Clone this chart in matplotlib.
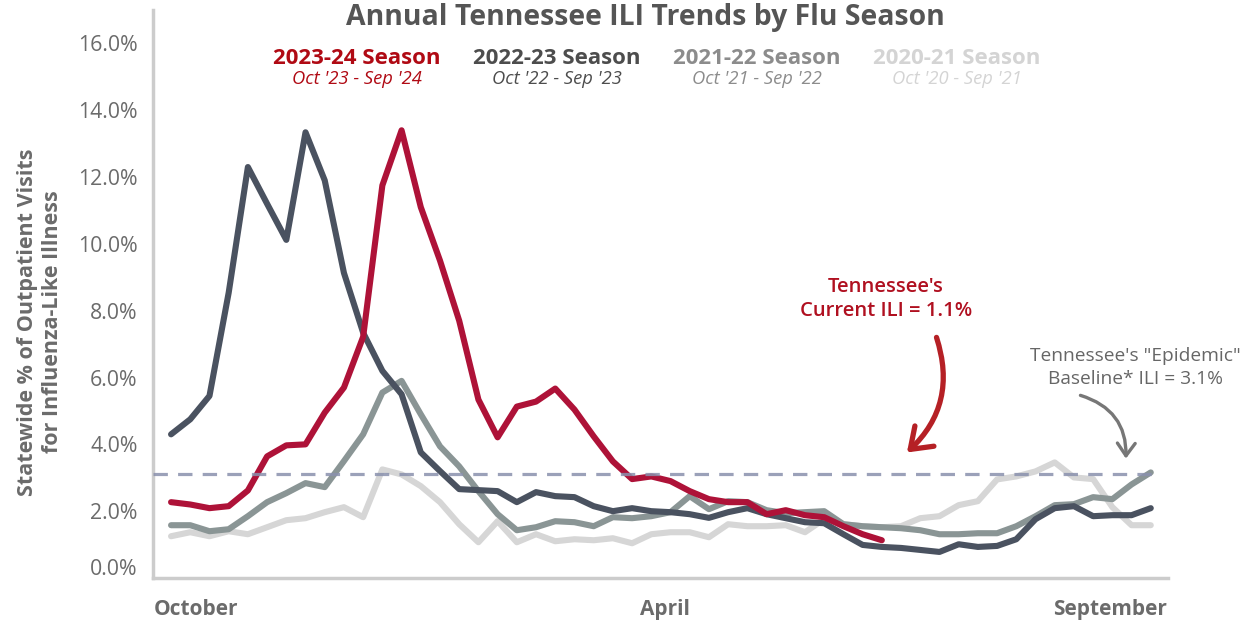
import matplotlib
matplotlib.use('Agg')
import matplotlib.pyplot as plt
import matplotlib.transforms as mtransforms
from matplotlib.patches import FancyArrowPatch

plt.rcParams['font.family'] = ['Open Sans', 'DejaVu Sans']

# weekly ILI % (week 0 = start of October)
season_2023_24 = [2.27, 2.2, 2.09, 2.15, 2.62, 3.64, 3.97, 4.0, 4.95, 5.7,
                  7.22, 11.75, 13.4, 11.1, 9.5, 7.7, 5.34, 4.21, 5.13, 5.28,
                  5.67, 5.04, 4.24, 3.49, 2.96, 3.04, 2.9, 2.6, 2.36, 2.27,
                  2.27, 1.91, 2.03, 1.88, 1.82, 1.55, 1.31, 1.13]
season_2022_23 = [4.3, 4.75, 5.45, 8.54, 12.3, 11.2, 10.12, 13.34, 11.9, 9.13,
                  7.34, 6.2, 5.5, 3.76, 3.2, 2.66, 2.63, 2.6, 2.27, 2.57,
                  2.45, 2.42, 2.15, 2.0, 2.09, 2.0, 1.97, 1.91, 1.8, 1.97,
                  2.09, 1.91, 1.79, 1.67, 1.64, 1.31, 0.99, 0.93, 0.9, 0.84,
                  0.78, 1.01, 0.93, 0.96, 1.16, 1.76, 2.09, 2.15, 1.85, 1.88,
                  1.88, 2.09]
season_2021_22 = [1.58, 1.58, 1.4, 1.46, 1.85, 2.27, 2.54, 2.84, 2.72, 3.5,
                  4.3, 5.55, 5.9, 4.9, 3.94, 3.34, 2.6, 1.91, 1.43, 1.52,
                  1.7, 1.67, 1.55, 1.82, 1.79, 1.85, 1.97, 2.45, 2.06, 2.3,
                  2.27, 2.03, 1.94, 1.97, 2.0, 1.61, 1.55, 1.52, 1.49, 1.43,
                  1.31, 1.31, 1.34, 1.34, 1.55, 1.85, 2.18, 2.21, 2.42, 2.36,
                  2.8, 3.16]
season_2020_21 = [1.25, 1.37, 1.25, 1.4, 1.31, 1.52, 1.73, 1.79, 1.97, 2.12,
                  1.82, 3.25, 3.1, 2.75, 2.27, 1.61, 1.07, 1.7, 1.07, 1.31,
                  1.1, 1.16, 1.13, 1.19, 1.04, 1.31, 1.37, 1.37, 1.22, 1.61,
                  1.55, 1.55, 1.58, 1.37, 1.76, 1.61, 1.55, 1.52, 1.55, 1.79,
                  1.85, 2.18, 2.3, 2.95, 3.04, 3.19, 3.46, 3.01, 2.96, 2.12,
                  1.58, 1.58]
baseline = 3.1

season_names = ['2023-24 Season', '2022-23 Season', '2021-22 Season', '2020-21 Season']
season_ranges = ["Oct '23 - Sep '24", "Oct '22 - Sep '23", "Oct '21 - Sep '22", "Oct '20 - Sep '21"]
month_labels = ['October', 'April', 'September']
month_pos = [1.3, 25.7, 48.9]
y_ticks = [0, 2, 4, 6, 8, 10, 12, 14, 16]

fig = plt.figure(figsize=(12.51, 6.25), dpi=100)
ax = fig.add_axes([0.1223, 0.0752, 0.8114, 0.9088])

line_kw = dict(lw=4.4, solid_capstyle='round', solid_joinstyle='round')
ax.plot(range(len(season_2020_21)), season_2020_21, color='#D6D6D6', **line_kw)
ax.plot(range(len(season_2021_22)), season_2021_22, color='#8A9595', **line_kw)
ax.plot(range(len(season_2022_23)), season_2022_23, color='#4A5260', **line_kw)
ax.plot(range(len(season_2023_24)), season_2023_24, color='#AE1238', **line_kw)

ax.hlines(baseline, -0.94, 51.5, colors='#8A91AD', linestyles=(0, (4.5, 3.2)),
          lw=2.3, alpha=0.85, zorder=5)

ax.set_xlim(-0.94, 51.9)
ax.set_ylim(0, 17)

for s in ['top', 'right']:
    ax.spines[s].set_visible(False)
for s in ['left', 'bottom']:
    ax.spines[s].set_color('#CCCCCC')
    ax.spines[s].set_linewidth(2.5)

ax.set_yticks(y_ticks)
ax.set_yticklabels(['{:.1f}%'.format(v) for v in y_ticks])
ax.tick_params(axis='y', length=0, pad=11, labelsize=15.3, labelcolor='#6B6B6B')
ax.set_xticks(month_pos)
ax.set_xticklabels(month_labels, fontweight='bold')
ax.tick_params(axis='x', length=0, pad=15, labelsize=15, labelcolor='#6B6B6B')

# 0.0% label sits a bit above the axis line
lbl = ax.get_yticklabels()[0]
lbl.set_transform(lbl.get_transform() +
                  mtransforms.ScaledTranslation(0, 0.11, fig.dpi_scale_trans))

fig.text(40 / 1251, 1 - 322 / 625,
         'Statewide % of Outpatient Visits\nfor Influenza-Like Illness',
         rotation=90, ha='center', va='center', fontsize=15.5,
         fontweight='bold', color='#6B6B6B', linespacing=1.2)

fig.text(0.516, 1 - 17 / 625, 'Annual Tennessee ILI Trends by Flu Season',
         ha='center', va='center', fontsize=20.4, fontweight='bold',
         color='#555555')

name_colors = ['#B00A14', '#4D4D4D', '#8C8C8C', '#D4D4D4']
for i, (name, rng, c) in enumerate(zip(season_names, season_ranges, name_colors)):
    xc = (357 + 200 * i) / 1251
    fig.text(xc, 1 - 58 / 625, name, ha='center', va='center', fontsize=16,
             fontweight='bold', color=c)
    fig.text(xc, 1 - 79 / 625, rng, ha='center', va='center', fontsize=13.2,
             style='italic', color=c)

ax.text(37.2, 8.35, "Tennessee's\nCurrent ILI = 1.1%", ha='center', va='center',
        fontsize=14.6, fontweight='semibold', color='#B01020', linespacing=1.3)
ax.add_patch(FancyArrowPatch((39.8, 7.28), (38.2, 3.7),
                             connectionstyle='arc3,rad=-0.33',
                             arrowstyle='->,head_length=7,head_width=5',
                             color='#B52025', lw=3.8, mutation_scale=2))

ax.text(50.2, 6.3, 'Tennessee\'s "Epidemic"\nBaseline* ILI = 3.1%', ha='center',
        va='center', fontsize=13.8, color='#666666', linespacing=1.3)
ax.add_patch(FancyArrowPatch((47.2, 5.49), (49.7, 3.49),
                             connectionstyle='arc3,rad=-0.4',
                             arrowstyle='->,head_length=4.5,head_width=3.2',
                             color='#777777', lw=2.4, mutation_scale=2))

fig.savefig('out.png', dpi=100)
